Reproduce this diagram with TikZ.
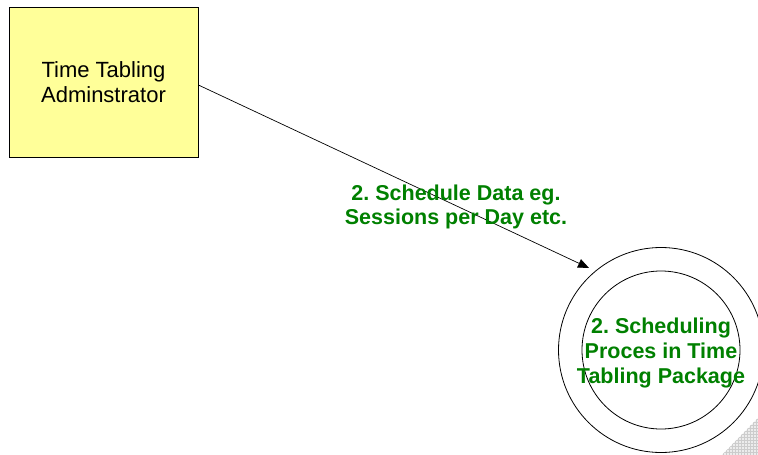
\documentclass[tikz,border=0pt]{standalone}
\usepackage{fontspec}
\setmainfont{Liberation Sans}
\usetikzlibrary{arrows.meta,patterns}
\frenchspacing
\definecolor{boxyellow}{RGB}{255,255,153}
\definecolor{lblgreen}{RGB}{0,128,0}
\tikzset{
  entity/.style={draw=black, fill=boxyellow, line width=0.8pt, minimum width=189pt, minimum height=150pt, inner sep=0pt, align=center, font=\fontsize{22}{25}\selectfont},
  glabel/.style={text=lblgreen, align=center, font=\bfseries\fontsize{21.5}{25}\selectfont},
  flabelstyle/.style={text=lblgreen, align=center, font=\bfseries\fontsize{21.5}{24}\selectfont},
  flow/.style={draw=black, line width=0.7pt, -{Triangle[length=11pt,width=9pt]}},
  ring/.style={draw=black, line width=0.8pt, circle, inner sep=0pt}
}
\begin{document}
\begin{tikzpicture}[x=1pt,y=-1pt]
\useasboundingbox (0,0) rectangle (758,455);
\fill[gray!15] (722,455) -- (758,418) -- (758,455) -- cycle;
\fill[pattern=grid, pattern color=gray!40] (722,455) -- (758,418) -- (758,455) -- cycle;
\node[entity] (adm) at (103.5,82) {Time Tabling\\Adminstrator};
\node[ring, minimum size=205pt] (outer) at (661,350) {};
\node[ring, minimum size=158pt] (inner) at (661,350) {};
\node[glabel] (ptext) at (661,352.5) {2. Scheduling\\Proces in Time\\Tabling Package};
\coordinate (tip) at (589,268);
\draw[flow] (adm.east |- 0,85) -- (tip);
\node[flabelstyle] (flabel) at (456,206.5) {2. Schedule Data eg.\\Sessions per Day etc.};
\end{tikzpicture}
\end{document}
